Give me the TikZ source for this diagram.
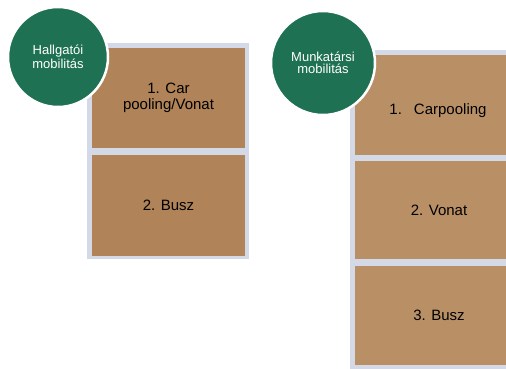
\documentclass[tikz,border=0pt]{standalone}
\usepackage{fontspec}
\setmainfont{Liberation Sans}
\definecolor{framegray}{HTML}{D3D9E6}
\definecolor{tileleft}{HTML}{B08358}
\definecolor{tileright}{HTML}{B99066}
\definecolor{badgegreen}{HTML}{1F7153}
\begin{document}
\begin{tikzpicture}[x=1pt,y=-1pt,
tile/.style={inner sep=0pt,align=center,font=\fontsize{15}{16}\selectfont},
badge/.style={circle,fill=badgegreen,draw=white,line width=2.5pt,minimum size=100pt,inner sep=0pt,text=white,align=center}]
\useasboundingbox(0,0)rectangle(506,368);
\clip(0,0)rectangle(506,368);
% left group
\begin{scope}
\fill[framegray](87,43)rectangle(249,259);
\node[tile,fill=tileleft,minimum width=153pt,minimum height=100pt](h1)at(168.5,98){1. Car\\pooling/Vonat};
\node[tile,fill=tileleft,minimum width=153pt,minimum height=101pt](h2)at(168.5,205.5){2. Busz};
\node[badge,font=\fontsize{13}{13.5}\selectfont](hallgatoi)at(58,57){Hallgatói\\mobilitás};
\end{scope}
% right group
\begin{scope}
\fill[framegray](350,50)rectangle(530,380);
\node[tile,fill=tileright,minimum width=168pt,minimum height=100pt](m1)at(439,105){};
\node[tile]at(438,111){1.\hspace{12pt}Carpooling};
\node[tile,fill=tileright,minimum width=168pt,minimum height=98pt](m2)at(439,210){2. Vonat};
\node[tile,fill=tileright,minimum width=168pt,minimum height=99pt](m3)at(439,315.5){3. Busz};
\node[badge,minimum size=104pt,font=\fontsize{13}{12}\selectfont](munkatarsi)at(323,63){Munkatársi\\mobilitás};
\end{scope}
\end{tikzpicture}
\end{document}
